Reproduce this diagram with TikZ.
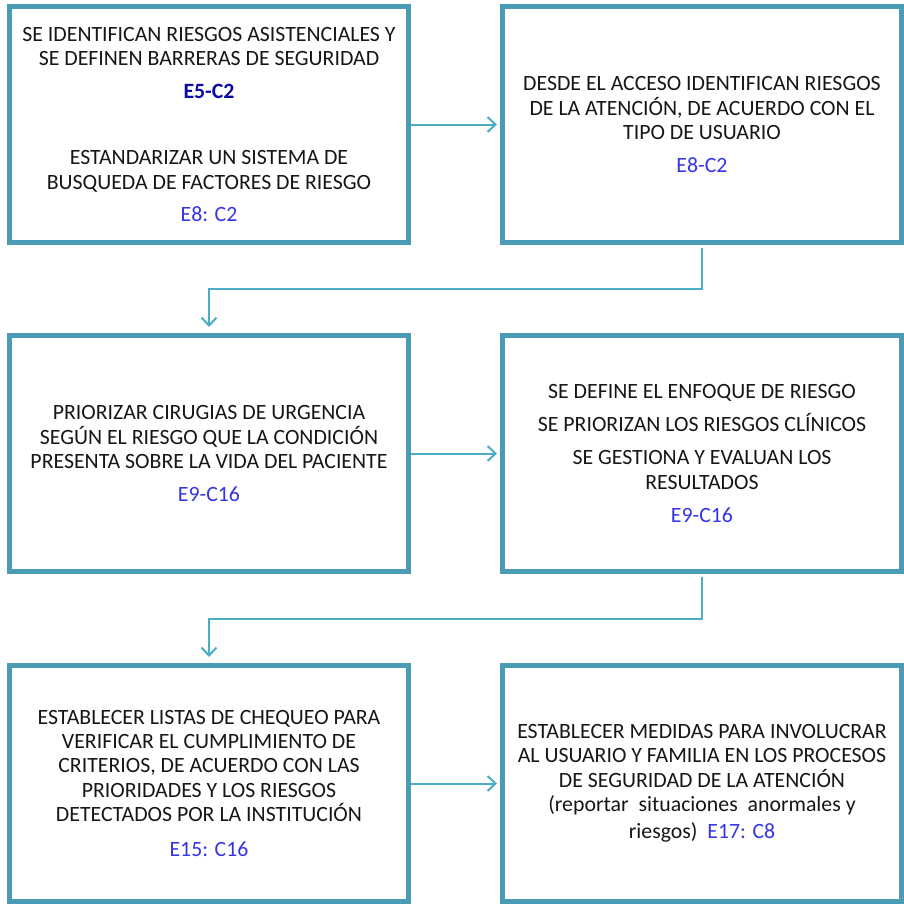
\documentclass[tikz,border=0pt]{standalone}
\usepackage{fontspec}
\setmainfont{Carlito}
\usetikzlibrary{arrows.meta}
\definecolor{boxc}{HTML}{4A9CB4}
\definecolor{arrc}{HTML}{4BACC6}
\definecolor{codeA}{HTML}{0A0AA8}
\definecolor{codeB}{HTML}{3535E6}
\definecolor{txt}{HTML}{161616}
\begin{document}
\begin{tikzpicture}[x=1pt,y=-1pt,
  box/.style={draw=boxc,line width=5pt,minimum width=399pt,minimum height=236pt,
    inner sep=0pt,align=center,text=txt,font=\fontsize{21.8}{24.5}\selectfont},
  conn/.style={draw=arrc,line width=2pt,-{Straight Barb[length=8pt,width=15pt,line width=2pt]}},
]
\useasboundingbox (0,0) rectangle (904,906);

\node[box] (b1) at (209,124.5) {SE IDENTIFICAN RIESGOS ASISTENCIALES Y\\
  SE DEFINEN BARRERAS DE SEGURIDAD\\[8.5pt]
  \textcolor{codeA}{\textbf{E5-C2}}\\[41.5pt]
  ESTANDARIZAR UN SISTEMA DE\\
  BUSQUEDA DE FACTORES DE RIESGO\\[7.5pt]
  \textcolor{codeB}{E8: C2}};

\node[box] (b2) at (702,124.5) {DESDE EL ACCESO IDENTIFICAN RIESGOS\\
  DE LA ATENCIÓN, DE ACUERDO CON EL\\
  TIPO DE USUARIO\\[8pt]
  \textcolor{codeB}{E8-C2}};

\node[box] (b3) at (209,453.5) {PRIORIZAR CIRUGIAS DE URGENCIA\\
  SEGÚN EL RIESGO QUE LA CONDICIÓN\\
  PRESENTA SOBRE LA VIDA DEL PACIENTE\\[8.5pt]
  \textcolor{codeB}{E9-C16}};

\node[box] (b4) at (702,453.5) {SE DEFINE EL ENFOQUE DE RIESGO\\[8.5pt]
  SE PRIORIZAN LOS RIESGOS CLÍNICOS\\[8.5pt]
  SE GESTIONA Y EVALUAN LOS\\
  RESULTADOS\\[8.5pt]
  \textcolor{codeB}{E9-C16}};

\node[box] (b5) at (209,783.5) {ESTABLECER LISTAS DE CHEQUEO PARA\\
  VERIFICAR EL CUMPLIMIENTO DE\\
  CRITERIOS, DE ACUERDO CON LAS\\
  PRIORIDADES Y LOS RIESGOS\\
  DETECTADOS POR LA INSTITUCIÓN\\[10.5pt]
  \textcolor{codeB}{E15: C16}};

\node[box] (b6) at (702,783.5) {ESTABLECER MEDIDAS PARA INVOLUCRAR\\
  AL USUARIO Y FAMILIA EN LOS PROCESOS\\
  DE SEGURIDAD DE LA ATENCIÓN\\
  (reportar\ \ situaciones\ \ anormales y\\[2.5pt]
  riesgos)\ \ \textcolor{codeB}{E17: C8}};

\coordinate (k1) at (209,289);
\coordinate (k2) at (209,619);

\draw[conn,shorten >=3pt] (b1.east) -- (b1.east -| b2.west);
\draw[conn,shorten >=3pt] (b3.east) -- (b3.east -| b4.west);
\draw[conn,shorten >=3pt] (b5.east) -- (b5.east -| b6.west);
\draw[conn,shorten <=2.5pt,shorten >=6pt] (b2.south) |- (k1) -- (b3.north);
\draw[conn,shorten <=2.5pt,shorten >=6pt] (b4.south) |- (k2) -- (b5.north);
\end{tikzpicture}
\end{document}
